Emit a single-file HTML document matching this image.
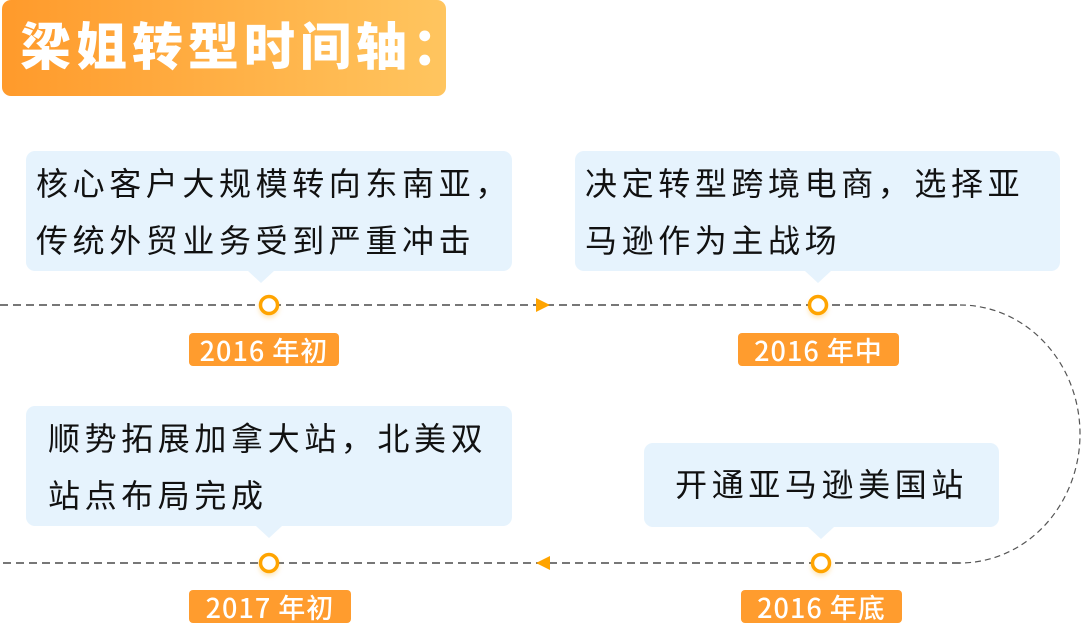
<!DOCTYPE html>
<html><head><meta charset="utf-8"><style>
body{margin:0;width:1082px;height:624px;background:#fff;position:relative;overflow:hidden;font-family:"Noto Sans CJK SC",sans-serif}
.t{position:absolute;left:2px;top:0;width:444px;height:96px;border-radius:9px;background:linear-gradient(90deg,#ff9a2b,#ffc55f)}
.t span{position:absolute;left:18px;top:8px;font:900 51px "Noto Sans CJK SC",sans-serif;color:#fff;letter-spacing:5px;line-height:70px;white-space:nowrap}
.b{position:absolute;background:#e6f3fd;border-radius:9px;font-family:"Noto Sans CJK SC",sans-serif;font-size:32px;letter-spacing:4.6px;color:#111;line-height:57px;white-space:nowrap}
.p{position:absolute;width:0;height:0;border-left:13px solid transparent;border-right:13px solid transparent;border-top:12px solid #e6f3fd}
.l{position:absolute;height:33px;background:#ff9c2e;border-radius:4px;color:#fff;font:500 27px "Noto Sans CJK SC",sans-serif;line-height:33px;text-align:center;letter-spacing:1px}
</style></head><body>
<div class="t"><span>梁姐转型时间轴：</span></div>
<div class="b" style="left:26px;top:151px;width:486px;height:120px;padding-left:10px;box-sizing:border-box;padding-top:3px">核心客户大规模转向东南亚，<br>传统外贸业务受到严重冲击</div>
<div class="p" style="left:248px;top:271px"></div>
<div class="b" style="left:575px;top:151px;width:485px;height:120px;padding-left:10px;box-sizing:border-box;padding-top:3px">决定转型跨境电商，选择亚<br>马逊作为主战场</div>
<div class="p" style="left:805px;top:271px"></div>
<div class="b" style="left:26px;top:406px;width:486px;height:120px;padding-left:22px;box-sizing:border-box;padding-top:3px">顺势拓展加拿大站，北美双<br>站点布局完成</div>
<div class="p" style="left:256px;top:526px"></div>
<div class="b" style="left:644px;top:443px;width:355px;height:84px;text-align:center;line-height:80px">开通亚马逊美国站</div>
<div class="p" style="left:808px;top:527px"></div>
<svg style="position:absolute;left:0;top:0" width="1082" height="624">
<defs><filter id="s" x="-50%" y="-50%" width="200%" height="200%"><feDropShadow dx="0" dy="3" stdDeviation="2" flood-color="#ffa400" flood-opacity="0.25"/></filter></defs>
<path d="M960 305 A120 129 0 0 1 960 563" fill="none" stroke="#555" stroke-width="1.2" stroke-dasharray="6 4"/>
<path d="M0 305 H960 M960 563 H0" fill="none" stroke="#777" stroke-width="2" stroke-dasharray="8 5"/>
<polygon points="536,298 550,305 536,312" fill="#ffa400"/>
<polygon points="550,556 536,563 550,570" fill="#ffa400"/>
<g fill="#fff" stroke="#ffa400" stroke-width="3.5" filter="url(#s)">
<circle cx="269" cy="305" r="8.5"/><circle cx="818" cy="305" r="8.5"/>
<circle cx="269" cy="563" r="8.5"/><circle cx="821" cy="563" r="8.5"/>
</g></svg>
<div class="l" style="left:189px;top:333px;width:150px">2016 年初</div>
<div class="l" style="left:738px;top:333px;width:161px">2016 年中</div>
<div class="l" style="left:189px;top:590px;width:162px">2017 年初</div>
<div class="l" style="left:741px;top:590px;width:161px">2016 年底</div>
</body></html>
